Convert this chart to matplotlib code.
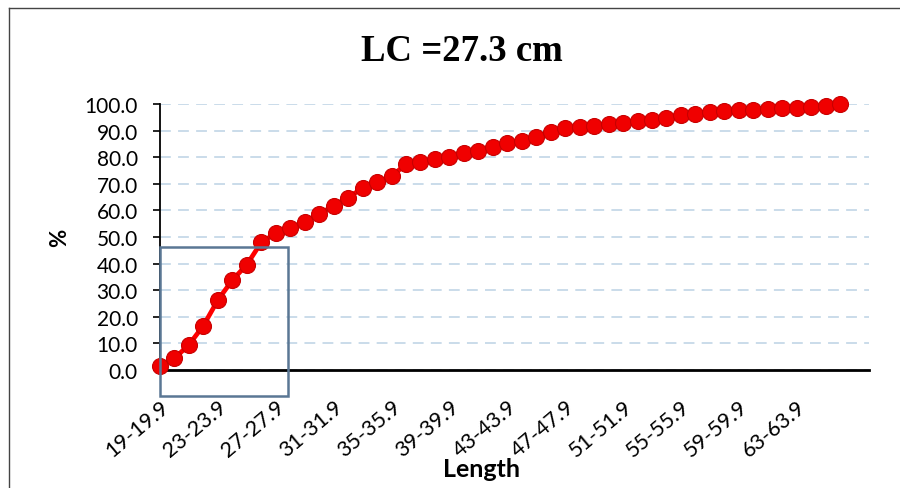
import matplotlib
matplotlib.use("Agg")
import matplotlib.pyplot as plt
from matplotlib.lines import Line2D
from matplotlib.patches import Rectangle

# length classes 19-19.9 ... 66-66.9 (cm), cumulative percentage
starts = list(range(19, 67))
classes = [f"{s}-{s}.9" for s in starts]
cum_pct = [1.4, 4.4, 9.5, 16.7, 26.3, 33.8, 39.6, 48.0, 51.4, 53.4,
           55.8, 58.6, 61.8, 64.8, 68.4, 70.6, 72.8, 77.4, 78.3, 79.3,
           80.1, 81.5, 82.3, 83.7, 85.3, 86.2, 87.5, 89.6, 90.9, 91.2,
           91.6, 92.4, 92.9, 93.5, 94.1, 94.9, 95.9, 96.2, 96.9, 97.4,
           97.6, 97.9, 98.1, 98.4, 98.6, 98.9, 99.1, 100.0]
yticks = [0, 10, 20, 30, 40, 50, 60, 70, 80, 90, 100]
lc_box_x = 8.85   # box right edge (category units)
lc_box_top = 46.2  # box top (%)

SANS = ["Lato", "DejaVu Sans"]
plt.rcParams["font.family"] = SANS

fig = plt.figure(figsize=(9, 4.89), dpi=100)
ax = fig.add_axes([0.1778, 0.2413, 0.7878, 0.544])

x = list(range(len(classes)))
ax.plot(x, cum_pct, "-", color="#ff0000", lw=3.4, zorder=3,
        solid_capstyle="round", clip_on=False)
ax.plot(x, cum_pct, "o", color="#f00000", markersize=11.5,
        markeredgecolor="#c80000", markeredgewidth=0.8, zorder=4,
        clip_on=False)

ax.set_xlim(0, 49)
ax.set_ylim(0, 100)
ax.set_yticks(yticks)
ax.set_yticklabels([f"{v:.1f}" for v in yticks], fontsize=15)
ax.set_xticks(x[::4])
ax.set_xticklabels(classes[::4], rotation=40, ha="right",
                   rotation_mode="anchor", fontsize=15.5)
ax.tick_params(axis="x", length=0, pad=19)
ax.tick_params(axis="y", length=5, width=1.2, pad=11, direction="out")
ax.grid(axis="y", color="#c6d9e8", lw=1.3, ls=(0, (6, 4)), zorder=0)
ax.set_axisbelow(True)
for s in ["top", "right"]:
    ax.spines[s].set_visible(False)
ax.spines["left"].set_linewidth(1.3)
ax.spines["bottom"].set_linewidth(2.0)

ax.add_patch(Rectangle((0, -9.8), lc_box_x, lc_box_top + 9.8, fill=False,
                       edgecolor="#5a7794", lw=1.8, zorder=5, clip_on=False))

ax.set_ylabel("%", fontsize=16, fontweight="bold", va="center")
ax.yaxis.set_label_coords(-0.142, 0.5)
ax.set_xlabel("Length", fontsize=18, fontweight="bold")
ax.xaxis.set_label_coords(0.454, -0.327)
fig.text(0.513, 0.894, "LC =27.3 cm", ha="center", va="center",
         fontsize=26.5, fontweight="bold", family="Liberation Serif")

# chart frame (top and left edges)
fig.add_artist(Line2D([0.01, 1.0], [0.982, 0.982], color="#444444", lw=1))
fig.add_artist(Line2D([0.01, 0.01], [0.0, 0.982], color="#444444", lw=1))

fig.savefig("out.png", dpi=100)
